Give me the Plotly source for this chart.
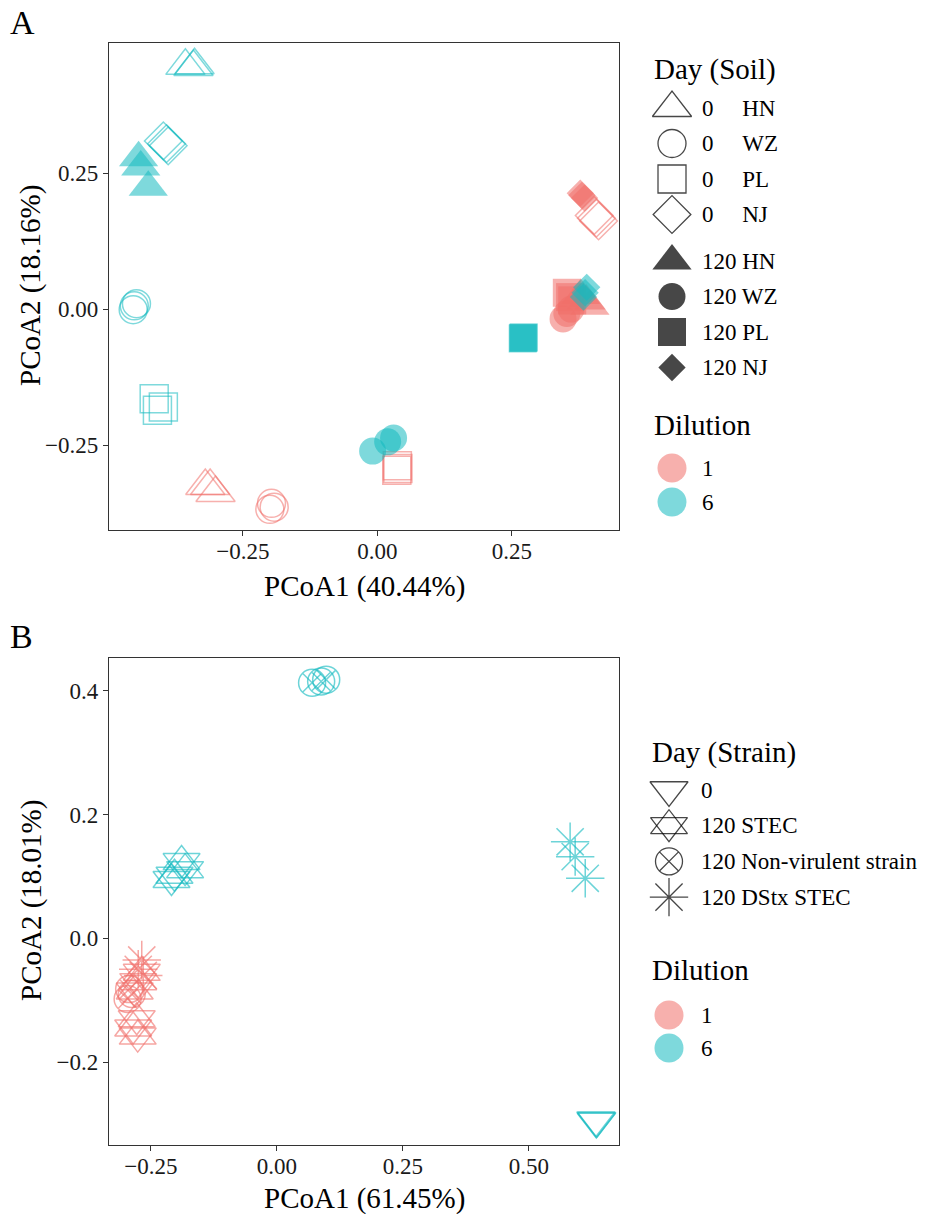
import plotly.graph_objects as go

# ---------------- Panel A data (long format) ----------------
A_day = [0]*3 + [120]*3 + [0]*3 + [0]*3 + [0]*3 + [120]*3 + [120]*3 + [120]*3 \
      + [0]*3 + [120]*3 + [120]*3 + [120]*3 + [120]*3 + [0]*3 + [0]*3 + [0]*3
A_soil = ["HN"]*3 + ["HN"]*3 + ["NJ"]*3 + ["WZ"]*3 + ["PL"]*3 + ["WZ"]*3 + ["PL"]*3 + ["NJ"]*3 \
       + ["NJ"]*3 + ["NJ"]*3 + ["HN"]*3 + ["PL"]*3 + ["WZ"]*3 + ["PL"]*3 + ["HN"]*3 + ["WZ"]*3
A_dil = [6]*24 + [1]*24
A_x = [-0.357, -0.342, -0.340,  -0.444, -0.440, -0.426,  -0.398, -0.392, -0.389,
       -0.452, -0.448, -0.454,  -0.415, -0.409, -0.398,  -0.009, 0.019, 0.030,
       0.271, 0.272, 0.270,     0.389, 0.383, 0.386,
       0.403, 0.407, 0.411,     0.377, 0.385, 0.380,     0.378, 0.388, 0.395,
       0.352, 0.358, 0.362,     0.345, 0.352, 0.360,     0.037, 0.038, 0.036,
       -0.320, -0.311, -0.301,  -0.197, -0.192, -0.200]
A_y = [0.447, 0.445, 0.448,  0.278, 0.261, 0.224,  0.309, 0.304, 0.300,
       0.006, 0.010, -0.001, -0.165, -0.186, -0.180, -0.261, -0.244, -0.237,
       -0.053, -0.052, -0.054, 0.040, 0.022, 0.030,
       0.172, 0.167, 0.162,  0.213, 0.204, 0.209,  0.025, 0.015, 0.005,
       0.030, 0.022, 0.016,  -0.018, -0.008, 0.000, -0.288, -0.293, -0.296,
       -0.325, -0.325, -0.338, -0.357, -0.364, -0.368]

# ---------------- Panel B data (long format) ----------------
B_group = ["0"]*3 + ["STEC"]*4 + ["Non-virulent strain"]*3 + ["DStx STEC"]*3 \
        + ["STEC"]*6 + ["Non-virulent strain"]*3 + ["DStx STEC"]*3
B_dil = [6]*13 + [1]*12
B_x = [0.633, 0.634, 0.635,  -0.189, -0.203, -0.182, -0.209,  0.070, 0.088, 0.098,
       0.582, 0.592, 0.612,
       -0.268, -0.275, -0.282, -0.278, -0.285, -0.276,  -0.293, -0.288, -0.296,
       -0.268, -0.275, -0.265]
B_y = [-0.294, -0.296, -0.295,  0.124, 0.102, 0.111, 0.095,  0.413, 0.415, 0.418,
       0.156, 0.132, 0.097,
       -0.055, -0.070, -0.085, -0.130, -0.145, -0.158,  -0.082, -0.090, -0.098,
       -0.035, -0.050, -0.060]

# legend entries
A_legend_soil = ["0\u00a0\u00a0\u00a0\u00a0\u00a0HN", "0\u00a0\u00a0\u00a0\u00a0\u00a0WZ",
                 "0\u00a0\u00a0\u00a0\u00a0\u00a0PL", "0\u00a0\u00a0\u00a0\u00a0\u00a0NJ",
                 "120 HN", "120 WZ", "120 PL", "120 NJ"]
B_legend_strain = ["0", "120 STEC", "120 Non-virulent strain", "120 DStx STEC"]
dilution_labels = ["1", "6"]

# ---------------- styling ----------------
FONT = "Liberation Serif, Times New Roman, serif"
COL = {1: "#F0706A", 6: "#14BAC0"}
ALPHA = 0.55
W, H = 927, 1214

A_SYM = {(0, "HN"): ("triangle-up-open", 34), (0, "WZ"): ("circle-open", 28),
         (0, "PL"): ("square-open", 28), (0, "NJ"): ("diamond-open", 29),
         (120, "HN"): ("triangle-up", 34), (120, "WZ"): ("circle", 27),
         (120, "PL"): ("square", 28), (120, "NJ"): ("diamond", 21)}
B_SYM = {"0": [("triangle-down-open", 33)],
         "STEC": [("triangle-up-open", 32), ("triangle-down-open", 32)],
         "Non-virulent strain": [("circle-x-open", 27)],
         "DStx STEC": [("asterisk-open", 32)]}

fig = go.Figure()

# Panel A points
for dil in [1, 6]:
    for key, (sym, size) in A_SYM.items():
        idx = [i for i in range(len(A_x)) if A_dil[i] == dil and (A_day[i], A_soil[i]) == key]
        if not idx:
            continue
        fig.add_trace(go.Scatter(
            x=[A_x[i] for i in idx], y=[A_y[i] for i in idx], mode="markers",
            xaxis="x", yaxis="y", showlegend=False, hoverinfo="skip",
            marker=dict(symbol=sym, size=size, color=COL[dil], opacity=ALPHA,
                        line=dict(color=COL[dil], width=1.5 if "open" in sym else 0))))

# Panel B points
for dil in [1, 6]:
    for key, syms in B_SYM.items():
        idx = [i for i in range(len(B_x)) if B_dil[i] == dil and B_group[i] == key]
        if not idx:
            continue
        for sym, size in syms:
            fig.add_trace(go.Scatter(
                x=[B_x[i] for i in idx], y=[B_y[i] for i in idx], mode="markers",
                xaxis="x2", yaxis="y2", showlegend=False, hoverinfo="skip",
                marker=dict(symbol=sym, size=size, color=COL[dil], opacity=0.62,
                            line=dict(color=COL[dil], width=1.5))))

# ---------------- custom legends (pixel-space overlay axis) ----------------
annotations = []

def leg_text(x, y, text, size):
    annotations.append(dict(x=x, y=y, xref="x3", yref="y3", text=text, showarrow=False,
                            xanchor="left", yanchor="middle",
                            font=dict(family=FONT, size=size, color="#000")))

def leg_glyph(x, y, sym, size, color, opacity, lw):
    fig.add_trace(go.Scatter(x=[x], y=[y], mode="markers", xaxis="x3", yaxis="y3",
                             showlegend=False, hoverinfo="skip",
                             marker=dict(symbol=sym, size=size, color=color, opacity=opacity,
                                         line=dict(color=color, width=lw))))

# Legend A: Day (Soil)
LA_x, LA_tx = 672, 703
leg_text(652, 69, "Day (Soil)", 29)
ya = 108
for k, lab in enumerate(A_legend_soil):
    key = list(A_SYM.keys())[k]
    sym, size = A_SYM[key]
    if k == 4:
        ya += 11
    leg_glyph(LA_x, ya, sym, size, "#000000", 0.72, 1.3 if "open" in sym else 0)
    leg_text(LA_tx - 3, ya, lab, 23)
    ya += 35.5
leg_text(652, 425, "Dilution", 29)
for k, lab in enumerate(dilution_labels):
    yy = 468 + 34 * k
    leg_glyph(LA_x, yy, "circle", 29, COL[int(lab)], ALPHA, 0)
    leg_text(LA_tx - 3, yy, lab, 23)

# Legend B: Day (Strain)
LB_x, LB_tx = 669, 702
leg_text(650, 752, "Day (Strain)", 29)
for k, lab in enumerate(B_legend_strain):
    yy = 790 + 35.7 * k
    key = list(B_SYM.keys())[k]
    for sym, size in B_SYM[key]:
        leg_glyph(LB_x, yy, sym, size, "#000000", 0.72, 1.3)
    leg_text(LB_tx - 3, yy, lab, 23)
leg_text(650, 970, "Dilution", 29)
for k, lab in enumerate(dilution_labels):
    yy = 1015 + 33 * k
    leg_glyph(LB_x, yy, "circle", 29, COL[int(lab)], ALPHA, 0)
    leg_text(LB_tx - 3, yy, lab, 23)

# ---------------- titles / tags ----------------
def paper_text(xp, yp, text, size, angle=0, xanchor="center"):
    annotations.append(dict(x=xp / W, y=1 - yp / H, xref="paper", yref="paper", text=text,
                            showarrow=False, textangle=angle, xanchor=xanchor, yanchor="middle",
                            font=dict(family=FONT, size=size, color="#000")))

paper_text(8, 22, "A", 34, xanchor="left")
paper_text(8, 636, "B", 34, xanchor="left")
paper_text(364, 586, "PCoA1 (40.44%)", 29)
paper_text(31, 286, "PCoA2 (18.16%)", 29, angle=-90)
paper_text(364, 1198, "PCoA1 (61.45%)", 29)
paper_text(31, 901, "PCoA2 (18.01%)", 29, angle=-90)

axis_common = dict(showline=True, mirror=True, linecolor="#333333", linewidth=1.3,
                   ticks="outside", ticklen=5, tickwidth=1.3, tickcolor="#333333",
                   showgrid=False, zeroline=False,
                   tickfont=dict(family=FONT, size=23, color="#1a1a1a"))

xdom = [109 / W, 619 / W]
fig.update_layout(
    width=W, height=H, margin=dict(l=0, r=0, t=0, b=0),
    paper_bgcolor="white", plot_bgcolor="rgba(0,0,0,0)",
    showlegend=False,
    xaxis=dict(domain=xdom, range=[-0.499, 0.449], anchor="y", ticklabelstandoff=-5,
               tickvals=[-0.25, 0, 0.25], tickformat=".2f", **axis_common),
    yaxis=dict(domain=[1 - 530 / H, 1 - 43 / H], range=[-0.406, 0.489], anchor="x",
               tickvals=[-0.25, 0, 0.25], tickformat=".2f", **axis_common),
    xaxis2=dict(domain=xdom, range=[-0.333, 0.679], anchor="y2", ticklabelstandoff=-5,
                tickvals=[-0.25, 0, 0.25, 0.5], tickformat=".2f", **axis_common),
    yaxis2=dict(domain=[1 - 1145 / H, 1 - 658 / H], range=[-0.334, 0.453], anchor="x2",
                tickvals=[-0.2, 0, 0.2, 0.4], tickformat=".1f", **axis_common),
    xaxis3=dict(domain=[0, 1], range=[0, W], anchor="y3", visible=False, fixedrange=True),
    yaxis3=dict(domain=[0, 1], range=[H, 0], anchor="x3", visible=False, fixedrange=True),
    annotations=annotations,
)

fig.write_html("out.html")
